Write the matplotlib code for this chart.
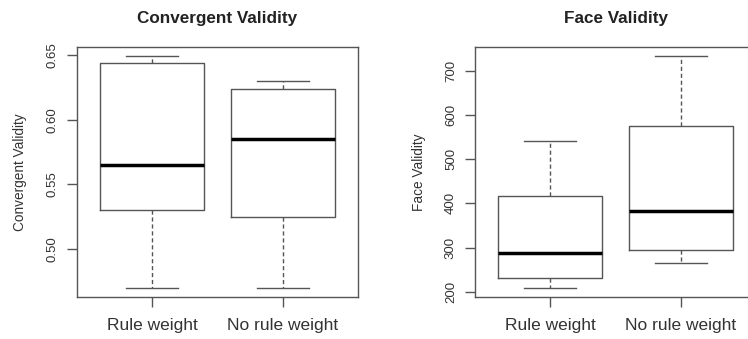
# Boxplots: convergent validity and face validity, with and without rule weight

import matplotlib.pyplot as plt

plt.rcParams['font.family'] = ['Liberation Sans', 'DejaVu Sans']

groups = ['Rule weight', 'No rule weight']

# five-number summaries
conv_whislo = [0.470, 0.470]
conv_q1 = [0.530, 0.525]
conv_med = [0.565, 0.585]
conv_q3 = [0.644, 0.624]
conv_whishi = [0.649, 0.630]
conv_ticks = [0.50, 0.55, 0.60, 0.65]

face_whislo = [209, 265]
face_q1 = [232, 295]
face_med = [287, 383]
face_q3 = [416, 575]
face_whishi = [541, 733]
face_ticks = [200, 300, 400, 500, 600, 700]

fig = plt.figure(figsize=(7.48, 3.39), dpi=100)
ax1 = fig.add_axes([77 / 748, 42 / 339, 281 / 748, 250 / 339])
ax2 = fig.add_axes([475 / 748, 42 / 339, 281 / 748, 250 / 339])

edge = '#555555'


def draw(ax, lo, q1, med, q3, hi, ticks, title, ylabel, fmt):
    stats = []
    for i in range(len(groups)):
        stats.append({'whislo': lo[i], 'q1': q1[i], 'med': med[i],
                      'q3': q3[i], 'whishi': hi[i], 'fliers': []})
    ax.bxp(stats, positions=[1, 2], widths=0.8, showfliers=False,
           boxprops=dict(color=edge, linewidth=1.0),
           medianprops=dict(color='black', linewidth=2.5),
           whiskerprops=dict(color=edge, linewidth=1.0, linestyle=(0, (3, 2))),
           capprops=dict(color=edge, linewidth=1.0), capwidths=0.4)
    span = max(hi) - min(lo)
    ax.set_ylim(min(lo) - 0.04 * span, max(hi) + 0.04 * span)
    ax.set_xlim(0.42, 2.58)
    ax.set_yticks(ticks)
    ax.set_yticklabels([fmt % t for t in ticks], rotation=90, va='center', fontsize=9.5,
                       color='#333333')
    ax.set_xticks([1, 2])
    ax.set_xticklabels(groups, fontsize=12.5, color='#333333')
    ax.tick_params(axis='y', length=7, width=1.0, color=edge, pad=6)
    ax.tick_params(axis='x', length=7, width=1.0, color=edge, pad=8)
    for s in ax.spines.values():
        s.set_color(edge)
        s.set_linewidth(1.0)
    ax.set_title(title, fontsize=12.3, fontweight='bold', pad=17, color='#222222')
    ax.set_ylabel(ylabel, fontsize=9.8, labelpad=14, color='#333333')


draw(ax1, conv_whislo, conv_q1, conv_med, conv_q3, conv_whishi, conv_ticks,
     'Convergent Validity', 'Convergent Validity', '%.2f')
draw(ax2, face_whislo, face_q1, face_med, face_q3, face_whishi, face_ticks,
     'Face Validity', 'Face Validity', '%d')

fig.savefig('out.png', dpi=100)
